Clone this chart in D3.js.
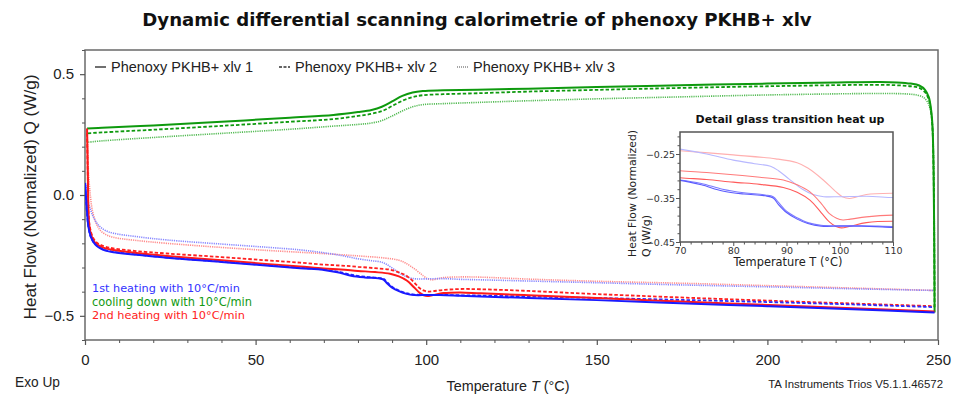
<!DOCTYPE html>
<html><head><meta charset="utf-8">
<script src="https://cdn.jsdelivr.net/npm/d3@7"></script>
<style>body{margin:0;background:#fff}svg{display:block}</style>
</head><body>
<svg id="c" width="956" height="397"></svg>
<script>
// ---------- data ----------
const tempTicks = [0, 50, 100, 150, 200, 250];
const flowTicks = [-0.5, 0.0, 0.5];
const insetTempTicks = [70, 80, 90, 100, 110];
const insetFlowTicks = [-0.45, -0.35, -0.25];
const seriesNames = ["Phenoxy PKHB+ xlv 1", "Phenoxy PKHB+ xlv 2", "Phenoxy PKHB+ xlv 3"];
const phaseLabels = ["1st heating with 10°C/min", "cooling down with 10°C/min", "2nd heating with 10°C/min"];

// 1st heating (blue)
const heat1Run1 = [[0.05,0.05],[0.4,-0.03],[0.7,-0.09],[1.0,-0.131],[1.6,-0.168],[2.4,-0.193],[3.4,-0.21],[4.4,-0.22],[6,-0.23],[8.3,-0.237],[15,-0.247],[24,-0.26],[40,-0.277],[53,-0.292],[63,-0.303],[70,-0.31],[74,-0.32],[78,-0.334],[82,-0.341],[86,-0.345],[87.5,-0.35],[88.5,-0.365],[90,-0.383],[92,-0.398],[94,-0.408],[96.5,-0.414],[100,-0.414],[104,-0.414],[110,-0.417],[116,-0.42],[130,-0.426],[150,-0.435],[174.5,-0.448],[200,-0.46],[225,-0.473],[249,-0.486]];
const heat1Run2 = [[0.05,0.04],[0.4,-0.04],[0.7,-0.095],[1.0,-0.133],[1.6,-0.17],[2.4,-0.193],[3.4,-0.208],[4.4,-0.218],[6,-0.228],[8.3,-0.235],[15,-0.246],[24,-0.259],[40,-0.276],[53,-0.29],[63,-0.301],[70,-0.309],[74,-0.317],[78,-0.33],[82,-0.338],[86,-0.343],[87.5,-0.347],[88.5,-0.36],[90,-0.38],[92,-0.395],[94,-0.406],[96.5,-0.412],[100,-0.413],[104,-0.413],[110,-0.415],[116,-0.416],[130,-0.42],[150,-0.426],[174.5,-0.434],[200,-0.443],[225,-0.453],[249,-0.464]];
const heat1Run3 = [[0.05,0.05],[0.3,0.034],[1,-0.03],[1.6,-0.06],[2.4,-0.09],[3.4,-0.115],[4.4,-0.131],[6,-0.147],[8.3,-0.158],[15,-0.172],[24,-0.186],[40,-0.203],[53,-0.216],[63,-0.227],[70,-0.239],[75,-0.25],[80,-0.264],[84,-0.272],[87,-0.278],[88.5,-0.288],[90.5,-0.307],[93,-0.33],[95,-0.342],[97,-0.347],[100,-0.347],[105,-0.346],[110,-0.349],[116,-0.351],[130,-0.356],[150,-0.363],[174.5,-0.372],[200,-0.38],[225,-0.388],[249,-0.395]];

// cooling (green), from 250 down to 0
const coolRun1 = [[249,-0.486],[248.9,-0.2],[248.7,0.1],[248.4,0.28],[248,0.35],[247.3,0.405],[246.2,0.435],[244.5,0.453],[242,0.461],[238,0.466],[233,0.468],[220,0.466],[200,0.461],[174.5,0.454],[150,0.447],[130,0.44],[115,0.436],[105,0.433],[99,0.43],[96,0.424],[93,0.41],[90,0.387],[87,0.365],[84,0.352],[80,0.343],[72.8,0.331],[60,0.32],[40,0.303],[20,0.288],[5,0.278],[0.6,0.275]];
const coolRun2 = [[249,-0.464],[248.9,-0.2],[248.7,0.1],[248.4,0.27],[248,0.34],[247.3,0.395],[246.2,0.425],[244.5,0.443],[242,0.45],[238,0.454],[233,0.456],[200,0.45],[174.5,0.443],[150,0.435],[130,0.428],[115,0.421],[105,0.417],[99,0.413],[96,0.405],[93,0.39],[90,0.368],[87,0.347],[84,0.336],[80,0.327],[72.8,0.314],[60,0.303],[40,0.286],[20,0.27],[5,0.259],[0.6,0.255]];
const coolRun3 = [[249,-0.395],[248.9,-0.1],[248.7,0.15],[248.3,0.3],[247.8,0.35],[247,0.383],[245.8,0.403],[244,0.413],[241,0.418],[233,0.42],[200,0.414],[174.5,0.406],[150,0.398],[130,0.39],[115,0.383],[105,0.378],[99,0.374],[96,0.365],[93,0.348],[90,0.327],[87,0.308],[84,0.298],[80,0.292],[72.8,0.285],[60,0.272],[40,0.255],[20,0.238],[5,0.224],[0.6,0.218]];

// 2nd heating (red)
const heat2Run1 = [[0.6,0.275],[0.75,0.15],[0.9,0.02],[1.0,-0.07],[1.4,-0.14],[2.4,-0.186],[3.4,-0.203],[4.4,-0.212],[6,-0.221],[8.3,-0.228],[15,-0.24],[24,-0.252],[40,-0.27],[53,-0.285],[63,-0.296],[70,-0.304],[75,-0.308],[80,-0.314],[85,-0.319],[89.4,-0.326],[92,-0.337],[94.4,-0.355],[96.5,-0.383],[98.1,-0.405],[99.3,-0.415],[100.3,-0.418],[102,-0.414],[105,-0.406],[110,-0.403],[116,-0.407],[130,-0.415],[150,-0.426],[174.5,-0.441],[200,-0.455],[225,-0.469],[249,-0.482]];
const heat2Run2 = [[0.6,0.255],[0.75,0.13],[0.9,0.01],[1.0,-0.06],[1.4,-0.13],[2.4,-0.178],[3.4,-0.196],[4.4,-0.205],[6,-0.214],[8.3,-0.221],[15,-0.232],[24,-0.242],[40,-0.257],[53,-0.27],[63,-0.28],[70,-0.288],[75,-0.292],[80,-0.297],[85,-0.303],[89.4,-0.309],[92,-0.32],[94.4,-0.336],[96.5,-0.362],[98,-0.385],[99.4,-0.396],[100.6,-0.4],[102,-0.398],[105,-0.393],[110,-0.389],[116,-0.39],[130,-0.397],[150,-0.41],[174.5,-0.424],[200,-0.437],[225,-0.449],[249,-0.46]];
const heat2Run3 = [[0.6,0.275],[0.8,0.2],[1.0,0.1],[1.5,0.007],[2.1,-0.06],[2.9,-0.103],[3.6,-0.127],[4.4,-0.145],[6,-0.163],[8.3,-0.175],[15,-0.188],[24,-0.2],[40,-0.217],[53,-0.229],[63,-0.237],[70,-0.2425],[80,-0.252],[88,-0.261],[92,-0.27],[94,-0.282],[96.9,-0.309],[99.2,-0.335],[100.5,-0.347],[101.8,-0.351],[103,-0.348],[105,-0.342],[110,-0.339],[116,-0.34],[130,-0.348],[150,-0.357],[174.5,-0.365],[200,-0.375],[225,-0.385],[249,-0.395]];

// ---------- drawing ----------
const svg = d3.select("#c");
const SANS = "'Liberation Sans', Arial, sans-serif";
const VERD = "'DejaVu Sans', Verdana, sans-serif";

function fit(sel, target) {
  const w = sel.node().getComputedTextLength();
  const fs = parseFloat(sel.attr("font-size"));
  sel.attr("font-size", (fs * target / w).toFixed(2));
  return sel;
}

const x = d3.scaleLinear().domain([0, 250]).range([85, 938]);
const y = d3.scaleLinear().domain([-0.6, 0.6]).range([340, 50]);

// title
fit(svg.append("text").attr("x", 477).attr("y", 26).attr("text-anchor", "middle")
  .attr("font-family", VERD).attr("font-weight", "bold").attr("font-size", 16).attr("fill", "#111")
  .text("Dynamic differential scanning calorimetrie of phenoxy PKHB+ xlv"), 670);

// frame
svg.append("rect").attr("x", x(0)).attr("y", y(0.6)).attr("width", x(250) - x(0)).attr("height", y(-0.6) - y(0.6))
  .attr("fill", "none").attr("stroke", "#6a6a6a").attr("stroke-width", 1.5);

// axes
const xAxis = d3.axisBottom(x).tickValues(tempTicks).tickFormat(d3.format("d")).tickSize(5).tickPadding(9);
const gx = svg.append("g").attr("transform", `translate(0,${y(-0.6)})`).call(xAxis);
gx.select(".domain").remove();
gx.selectAll("line").attr("stroke", "#555").attr("stroke-width", 1.2);
gx.selectAll("text").attr("font-family", SANS).attr("font-size", 15).attr("fill", "#222");
const gxm = svg.append("g").attr("transform", `translate(0,${y(-0.6)})`)
  .call(d3.axisBottom(x).tickValues(d3.range(10, 250, 10).filter(v => v % 50)).tickSize(3).tickFormat(""));
gxm.select(".domain").remove();
gxm.selectAll("line").attr("stroke", "#555");

const yAxis = d3.axisLeft(y).tickValues(flowTicks).tickFormat(d3.format(".1f")).tickSize(5).tickPadding(6);
const gy = svg.append("g").attr("transform", `translate(${x(0)},0)`).call(yAxis);
gy.select(".domain").remove();
gy.selectAll("line").attr("stroke", "#555").attr("stroke-width", 1.2);
gy.selectAll("text").attr("font-family", SANS).attr("font-size", 15).attr("fill", "#222");
const gym = svg.append("g").attr("transform", `translate(${x(0)},0)`)
  .call(d3.axisLeft(y).tickValues(d3.range(-6, 7).map(v => v / 10).filter(v => Math.abs(v * 10) % 5 !== 0)).tickSize(3).tickFormat(""));
gym.select(".domain").remove();
gym.selectAll("line").attr("stroke", "#555");

// axis titles
fit(svg.append("text").attr("transform", "translate(36,197) rotate(-90)").attr("text-anchor", "middle")
  .attr("font-family", SANS).attr("font-size", 15).attr("fill", "#222")
  .text("Heat Flow (Normalized) Q (W/g)"), 245);
const xl = svg.append("text").attr("x", 508).attr("y", 391).attr("text-anchor", "middle")
  .attr("font-family", SANS).attr("font-size", 15).attr("fill", "#222");
xl.append("tspan").text("Temperature ");
xl.append("tspan").attr("font-style", "italic").text("T");
xl.append("tspan").text(" (°C)");
fit(xl, 123);
fit(svg.append("text").attr("x", 15).attr("y", 387).attr("font-family", SANS).attr("font-size", 14)
  .attr("fill", "#222").text("Exo Up"), 45);
fit(svg.append("text").attr("x", 943).attr("y", 388).attr("text-anchor", "end").attr("font-family", SANS)
  .attr("font-size", 12).attr("fill", "#222").text("TA Instruments Trios V5.1.1.46572"), 175);

// lines
const clipMain = svg.append("clipPath").attr("id", "cm").append("rect")
  .attr("x", x(0)).attr("y", y(0.6)).attr("width", x(250) - x(0)).attr("height", y(-0.6) - y(0.6));
const line = d3.line().x(d => x(d[0])).y(d => y(d[1])).curve(d3.curveCatmullRom.alpha(0.5));
const styles = [
  { w: 2.0, dash: null },
  { w: 1.8, dash: "3.5,2" },
  { w: 1.6, dash: "1.2,1" }
];
const groups = [
  { runs: [coolRun1, coolRun2, coolRun3], cols: ["#0e9a0e", "#0e9a0e", "#55bb55"] },
  { runs: [heat2Run1, heat2Run2, heat2Run3], cols: ["#ff1a1a", "#ff2020", "#ff8c8c"] },
  { runs: [heat1Run1, heat1Run2, heat1Run3], cols: ["#1a1aff", "#2a2aff", "#8888ff"] }
];
const gl = svg.append("g").attr("clip-path", "url(#cm)");
// draw dotted first, then dashed, then solid
[2, 1, 0].forEach(k => {
  groups.forEach(g => {
    gl.append("path").datum(g.runs[k]).attr("d", line).attr("fill", "none")
      .attr("stroke", g.cols[k]).attr("stroke-width", styles[k].w)
      .attr("stroke-dasharray", styles[k].dash);
  });
});

// legend
const legX = [95, 279, 457];
seriesNames.forEach((n, i) => {
  svg.append("line").attr("x1", legX[i]).attr("x2", legX[i] + 11).attr("y1", 67).attr("y2", 67)
    .attr("stroke", i === 2 ? "#888" : "#333").attr("stroke-width", i === 2 ? 1.4 : 1.4)
    .attr("stroke-dasharray", i === 0 ? null : (i === 1 ? "3,1.5" : "1,1"));
  fit(svg.append("text").attr("x", legX[i] + 16).attr("y", 72).attr("font-family", SANS)
    .attr("font-size", 15).attr("fill", "#222").text(n), 142);
});

// phase annotations
const phaseCols = ["#3333ff", "#119911", "#ff2222"];
const phaseY = [292, 305.5, 319];
const phaseW = [148, 160, 153];
phaseLabels.forEach((t, i) => {
  fit(svg.append("text").attr("x", 92).attr("y", phaseY[i]).attr("font-family", VERD)
    .attr("font-size", 11).attr("fill", phaseCols[i]).text(t), phaseW[i]);
});

// ---------- inset ----------
const xi = d3.scaleLinear().domain([70, 110]).range([680, 893]);
const yi = d3.scaleLinear().domain([-0.45, -0.2]).range([242, 132]);
svg.append("rect").attr("x", 680).attr("y", 132).attr("width", 213).attr("height", 110).attr("fill", "#fff");
svg.append("clipPath").attr("id", "ci").append("rect").attr("x", 680).attr("y", 132).attr("width", 213).attr("height", 110);
const lineI = d3.line().x(d => xi(d[0])).y(d => yi(d[1])).curve(d3.curveCatmullRom.alpha(0.5));
const gi = svg.append("g").attr("clip-path", "url(#ci)");
const insetRuns = [
  [heat2Run3, "#ffb0b0"], [heat1Run3, "#b8b8ff"],
  [heat2Run2, "#ff7a7a"], [heat2Run1, "#ff5a5a"],
  [heat1Run2, "#7a7aff"], [heat1Run1, "#5a5aff"]
];
insetRuns.forEach(([d, c]) => {
  gi.append("path").datum(d.filter(p => p[0] >= 60 && p[0] <= 120)).attr("d", lineI)
    .attr("fill", "none").attr("stroke", c).attr("stroke-width", 1.1);
});
svg.append("rect").attr("x", 680).attr("y", 132).attr("width", 213).attr("height", 110)
  .attr("fill", "none").attr("stroke", "#555").attr("stroke-width", 1.5);

const gix = svg.append("g").attr("transform", "translate(0,242)")
  .call(d3.axisBottom(xi).tickValues(insetTempTicks).tickSize(4).tickPadding(1));
gix.select(".domain").remove();
gix.selectAll("line").attr("stroke", "#555");
gix.selectAll("text").attr("font-family", VERD).attr("font-size", 9.5).attr("fill", "#333");
const gixm = svg.append("g").attr("transform", "translate(0,242)")
  .call(d3.axisBottom(xi).tickValues(d3.range(72, 110, 2).filter(v => v % 10)).tickSize(2.5).tickFormat(""));
gixm.select(".domain").remove();
gixm.selectAll("line").attr("stroke", "#555");

const giy = svg.append("g").attr("transform", "translate(680,0)")
  .call(d3.axisLeft(yi).tickValues(insetFlowTicks).tickFormat(d3.format(".2f")).tickSize(4).tickPadding(1));
giy.select(".domain").remove();
giy.selectAll("line").attr("stroke", "#555");
giy.selectAll("text").attr("font-family", VERD).attr("font-size", 9.5).attr("fill", "#333");
const giym = svg.append("g").attr("transform", "translate(680,0)")
  .call(d3.axisLeft(yi).tickValues(d3.range(1, 13).map(k => -0.45 + 0.02 * k)).tickSize(2.5).tickFormat(""));
giym.select(".domain").remove();
giym.selectAll("line").attr("stroke", "#555");

fit(svg.append("text").attr("x", 790).attr("y", 123).attr("text-anchor", "middle").attr("font-family", VERD)
  .attr("font-weight", "bold").attr("font-size", 11).attr("fill", "#111")
  .text("Detail glass transition heat up"), 189);
fit(svg.append("text").attr("x", 788).attr("y", 266).attr("text-anchor", "middle").attr("font-family", VERD)
  .attr("font-size", 12).attr("fill", "#222").text("Temperature T (°C)"), 109);
fit(svg.append("text").attr("transform", "translate(636,257) rotate(-90)").attr("font-family", VERD)
  .attr("font-size", 12).attr("fill", "#222").text("Heat Flow (Normalized)"), 127);
fit(svg.append("text").attr("transform", "translate(650,257) rotate(-90)").attr("font-family", VERD)
  .attr("font-size", 12).attr("fill", "#222").text("Q (W/g)"), 42);
</script>
</body></html>
